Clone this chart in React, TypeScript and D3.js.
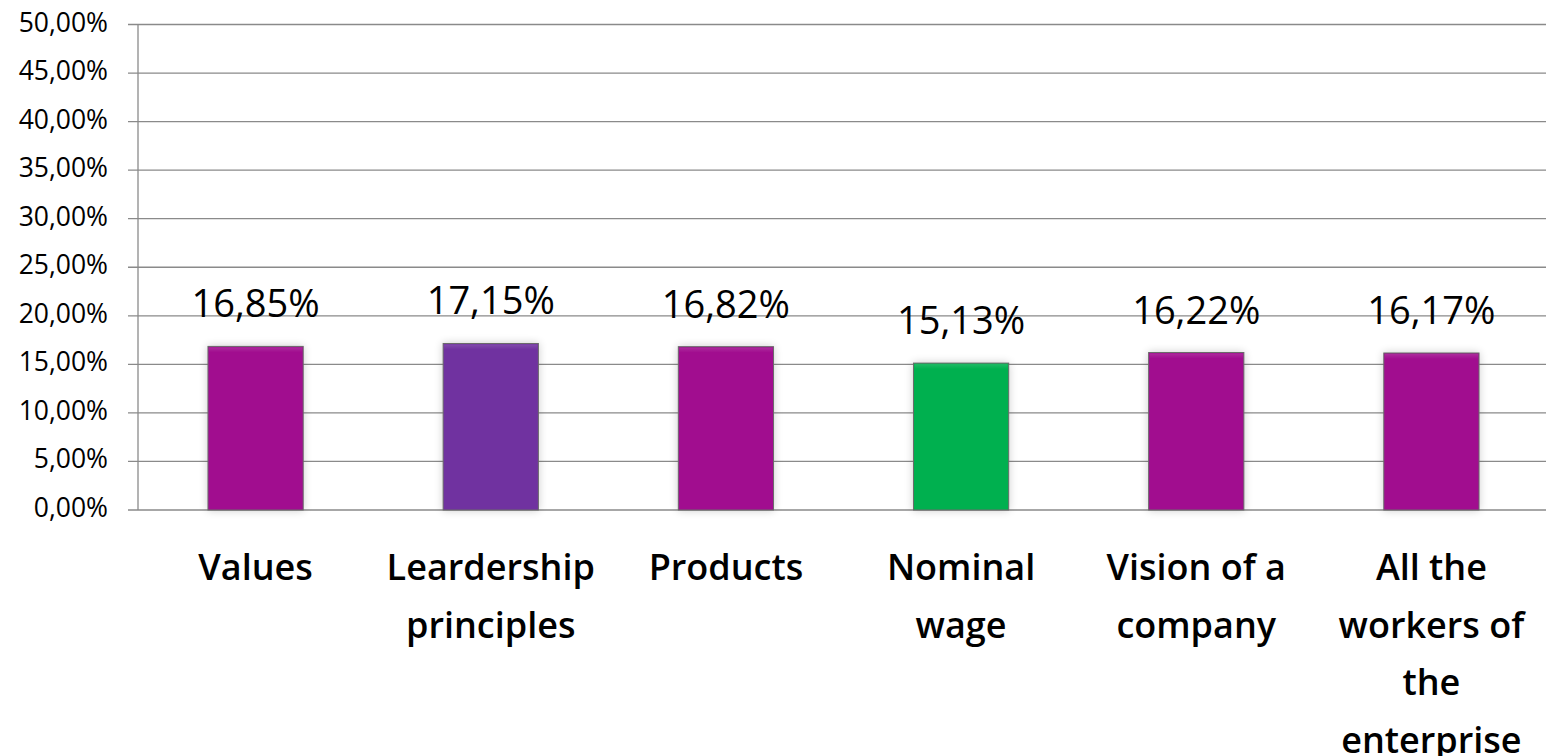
import React from "react";
import * as d3 from "d3";

const categories: string[] = [
  "Values",
  "Leardership\nprinciples",
  "Products",
  "Nominal\nwage",
  "Vision of a\ncompany",
  "All the\nworkers of\nthe\nenterprise",
];
const values: number[] = [0.1685, 0.1715, 0.1682, 0.1513, 0.1622, 0.1617];
const barColors: string[] = ["#A10D8F", "#7030A0", "#A10D8F", "#00B050", "#A10D8F", "#A10D8F"];
const yTicks: number[] = [0, 0.05, 0.1, 0.15, 0.2, 0.25, 0.3, 0.35, 0.4, 0.45, 0.5];

const W = 1546;
const H = 756;
const FONT = "'Open Sans', 'DejaVu Sans', sans-serif";

const locale = d3.formatLocale({
  decimal: ",",
  thousands: ".",
  grouping: [3],
  currency: ["", "€"],
});
const pct = locale.format(".2%");

export default function App() {
  const plotLeft = 138;
  const plotRight = 1549;
  const x = d3
    .scaleBand<string>()
    .domain(categories)
    .range([plotLeft, plotRight])
    .paddingInner(0.595)
    .paddingOuter(0.2975);
  const y = d3.scaleLinear().domain([0, 0.5]).range([510, 24.5]);

  return (
    <svg
      width={W}
      height={H}
      style={{ position: "absolute", left: 0, top: 0, background: "#fff" }}
    >
      <defs>
        <filter id="shadow" x="-20%" y="-20%" width="140%" height="140%">
          <feGaussianBlur in="SourceAlpha" stdDeviation="4" />
          <feComponentTransfer>
            <feFuncA type="linear" slope="0.2" />
          </feComponentTransfer>
          <feMerge>
            <feMergeNode />
            <feMergeNode in="SourceGraphic" />
          </feMerge>
        </filter>
        <linearGradient id="bevelTop" x1="0" y1="0" x2="0" y2="1">
          <stop offset="0" stopColor="#fff" stopOpacity="0.12" />
          <stop offset="1" stopColor="#fff" stopOpacity="0" />
        </linearGradient>
      </defs>

      {/* gridlines */}
      {yTicks.map((t) => (
        <line
          key={"g" + t}
          x1={128}
          x2={W}
          y1={y(t)}
          y2={y(t)}
          stroke="#8a8a8a"
          strokeWidth={1.3}
        />
      ))}
      {/* y axis */}
      <line x1={plotLeft} x2={plotLeft} y1={y(0.5)} y2={y(0)} stroke="#8a8a8a" strokeWidth={1.3} />

      {/* y tick labels */}
      {yTicks.map((t) => (
        <text
          key={"t" + t}
          x={108}
          y={y(t) + 7}
          textAnchor="end"
          fontFamily={FONT}
          fontSize={26.5}
          fill="#000"
        >
          {pct(t)}
        </text>
      ))}

      {/* bars */}
      {categories.map((c, i) => {
        const bx = x(c)!;
        const bw = x.bandwidth();
        const top = y(values[i]);
        const h = y(0) - top;
        return (
          <g key={"b" + i}>
            <rect
              x={bx}
              y={top}
              width={bw}
              height={h}
              fill={barColors[i]}
              stroke="#6a6a6a"
              strokeWidth={1}
              filter="url(#shadow)"
            />
            <rect x={bx + 1} y={top + 1} width={bw - 2} height={5} fill="url(#bevelTop)" />
            <text
              x={bx + bw / 2}
              y={top - 29}
              textAnchor="middle"
              fontFamily={FONT}
              fontSize={38}
              fill="#000"
            >
              {pct(values[i])}
            </text>
          </g>
        );
      })}

      {/* category labels */}
      {categories.map((c, i) => {
        const cx = x(c)! + x.bandwidth() / 2;
        return (
          <text
            key={"c" + i}
            textAnchor="middle"
            fontFamily={FONT}
            fontSize={36}
            fontWeight={600}
            fill="#000"
          >
            {c.split("\n").map((line, j) => (
              <tspan key={j} x={cx} y={580 + j * 57.5}>
                {line}
              </tspan>
            ))}
          </text>
        );
      })}
    </svg>
  );
}
